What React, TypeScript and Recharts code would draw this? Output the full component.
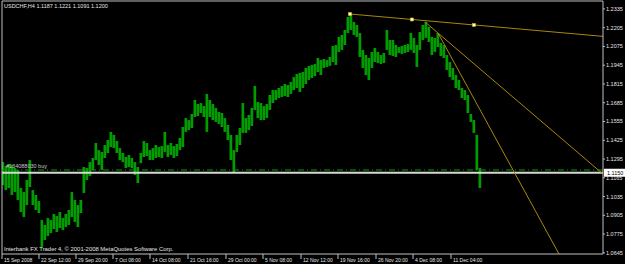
import React from 'react';
import { ComposedChart, Bar, XAxis, YAxis, ReferenceLine, ReferenceDot } from 'recharts';

const highs = [
  1.1274, 1.1247, 1.1260, 1.1254, 1.1233, 1.1219, 1.1094, 1.1066, 1.1150, 1.1288,
  1.1080, 1.1046, 1.1004, 1.0873, 1.0838, 1.0886, 1.0873, 1.0914, 1.0900, 1.0928,
  1.0886, 1.0914, 1.0942, 1.1066, 1.1011, 1.0976, 1.1011, 1.1240, 1.1233, 1.1274,
  1.1302, 1.1406, 1.1357, 1.1344, 1.1392, 1.1427, 1.1483, 1.1462, 1.1420, 1.1371,
  1.1337, 1.1309, 1.1323, 1.1302, 1.1274, 1.1240, 1.1337, 1.1420, 1.1406, 1.1357,
  1.1371, 1.1392, 1.1378, 1.1385, 1.1483, 1.1392, 1.1406, 1.1385, 1.1399, 1.1441,
  1.1517, 1.1579, 1.1565, 1.1607, 1.1704, 1.1676, 1.1683, 1.1662, 1.1746, 1.1704,
  1.1676, 1.1649, 1.1621, 1.1614, 1.1579, 1.1531, 1.1462, 1.1357, 1.1462, 1.1510,
  1.1683, 1.1579, 1.1600, 1.1649, 1.1801, 1.1690, 1.1683, 1.1662, 1.1676, 1.1739,
  1.1773, 1.1773, 1.1787, 1.1801, 1.1815, 1.1808, 1.1829, 1.1863, 1.1884, 1.1891,
  1.1898, 1.1926, 1.1940, 1.1947, 1.1953, 1.1995, 1.1981, 1.1988, 1.1981, 1.2002,
  1.2078, 1.2085, 1.2141, 1.2155, 1.2189, 1.2279, 1.2300, 1.2245, 1.2224, 1.2168,
  1.2051, 1.2016, 1.1995, 1.2037, 1.2064, 1.2037, 1.2016, 1.2030, 1.2189, 1.2120,
  1.2120, 1.2085, 1.2071, 1.2078, 1.2085, 1.2092, 1.2168, 1.2134, 1.2085, 1.2175,
  1.2224, 1.2245, 1.2210, 1.2141, 1.2134, 1.2168, 1.2099, 1.2085, 1.2016, 1.1967,
  1.1926, 1.1877, 1.1843, 1.1787, 1.1773, 1.1739, 1.1607, 1.1565, 1.1462, 1.1233,
];

const lows = [
  1.1115, 1.1080, 1.1094, 1.1046, 1.1066, 1.1011, 1.0928, 1.0893, 1.0976, 1.1101,
  1.0976, 1.0942, 1.0921, 1.0686, 1.0734, 1.0762, 1.0782, 1.0810, 1.0789, 1.0817,
  1.0803, 1.0824, 1.0838, 1.0893, 1.0859, 1.0824, 1.0921, 1.1060, 1.1150, 1.1177,
  1.1219, 1.1288, 1.1254, 1.1219, 1.1302, 1.1337, 1.1378, 1.1371, 1.1337, 1.1288,
  1.1274, 1.1233, 1.1240, 1.1233, 1.1184, 1.1129, 1.1267, 1.1309, 1.1316, 1.1288,
  1.1288, 1.1302, 1.1309, 1.1302, 1.1344, 1.1309, 1.1323, 1.1302, 1.1316, 1.1357,
  1.1378, 1.1483, 1.1496, 1.1510, 1.1586, 1.1593, 1.1614, 1.1586, 1.1483, 1.1586,
  1.1565, 1.1552, 1.1538, 1.1517, 1.1483, 1.1427, 1.1288, 1.1205, 1.1344, 1.1392,
  1.1476, 1.1476, 1.1496, 1.1524, 1.1635, 1.1579, 1.1565, 1.1565, 1.1579, 1.1635,
  1.1683, 1.1704, 1.1718, 1.1725, 1.1732, 1.1725, 1.1746, 1.1773, 1.1787, 1.1759,
  1.1787, 1.1815, 1.1843, 1.1856, 1.1870, 1.1898, 1.1877, 1.1926, 1.1933, 1.1940,
  1.1967, 1.1947, 1.2037, 1.2051, 1.2085, 1.2168, 1.2189, 1.2155, 1.2141, 1.2002,
  1.1926, 1.1877, 1.1843, 1.1926, 1.1967, 1.1960, 1.1953, 1.1960, 1.2051, 1.2016,
  1.2009, 1.2002, 1.2030, 1.2023, 1.2030, 1.2037, 1.2051, 1.2030, 1.1933, 1.2051,
  1.2120, 1.2134, 1.2106, 1.2016, 1.2037, 1.2071, 1.2009, 1.1995, 1.1912, 1.1863,
  1.1843, 1.1787, 1.1773, 1.1718, 1.1704, 1.1614, 1.1552, 1.1476, 1.1219, 1.1094,
];

// each entry covers three H4 bars
const data = highs.map((h, i) => ({ bar: i * 3 + 1, high: h, low: lows[i] }));

const timeTicks = [0, 37, 74, 111, 148, 186, 224, 261, 299, 336, 374, 411, 449];
const timeLabels = [
  '15 Sep 2008', '22 Sep 12:00', '29 Sep 20:00', '7 Oct 08:00', '14 Oct 08:00',
  '21 Oct 16:00', '29 Oct 00:00', '5 Nov 08:00', '12 Nov 12:00', '19 Nov 16:00',
  '26 Nov 20:00', '4 Dec 08:00', '11 Dec 04:00',
];
const priceTicks = [
  1.2335, 1.2205, 1.2075, 1.1945, 1.1815, 1.1685, 1.1555, 1.1425, 1.1295,
  1.1165, 1.1035, 1.0905, 1.0775, 1.0645,
];

const bidPrice = 1.12;
const bidLabel = '1.1150';
const orderPrice = 1.1219;
const orderLabel = '#134088030 buy';
const headerText = 'USDCHF,H4  1.1187 1.1221 1.1091 1.1200';
const footerText = 'Interbank FX Trader 4, \u00A9 2001-2008 MetaQuotes Software Corp.';

const trendTop = [{ x: 348, y: 1.23 }, { x: 601, y: 1.2145 }];
const trendAnchors = [{ x: 348, y: 1.23 }, { x: 410, y: 1.2262 }, { x: 472, y: 1.2224 }];
const fanA = [{ x: 423, y: 1.2245 }, { x: 601, y: 1.1191 }];
const fanB = [{ x: 436, y: 1.2168 }, { x: 557, y: 1.0637 }];

const FONT = '"Liberation Sans", Arial, sans-serif';
const FS = 5.5;
const FSX = 5.0;
const FSF = 5.9;
const AXIS = '#c0c0c0';
const GOLD = '#a8880c';

const XTick = (props: any) => {
  const { x, y, index } = props;
  return (
    <text x={x + 2} y={y + 3} fontSize={FSX} fontFamily={FONT} fill="#e6e6e6" textAnchor="start">
      {timeLabels[index]}
    </text>
  );
};

const Square = (props: any) => {
  const { cx, cy } = props;
  return <rect x={cx - 1.5} y={cy - 1.5} width={3} height={3} fill="#ffffa8" stroke="#e0c040" strokeWidth={0.5} />;
};

export default function App() {
  return (
    <div style={{ position: 'fixed', left: 0, top: 0, width: 625, height: 264, background: '#000', overflow: 'hidden' }}>
      <ComposedChart
        width={625}
        height={264}
        data={data}
        margin={{ top: 1, right: 0, left: 2, bottom: 0 }}
        barCategoryGap={0}
        barGap={0}
      >
        <XAxis
          dataKey="bar"
          type="number"
          domain={[0, 601]}
          allowDataOverflow
          ticks={timeTicks}
          interval={0}
          height={10}
          tickSize={5}
          tickMargin={0}
          axisLine={{ stroke: AXIS }}
          tickLine={{ stroke: AXIS }}
          tick={<XTick />}
        />
        <YAxis
          orientation="right"
          type="number"
          domain={[1.0637, 1.239]}
          allowDataOverflow
          ticks={priceTicks}
          interval={0}
          width={22}
          tickSize={2}
          tickMargin={1}
          axisLine={{ stroke: AXIS }}
          tickLine={{ stroke: AXIS }}
          tick={{ fill: '#e6e6e6', fontSize: FS, fontFamily: FONT }}
          tickFormatter={(v: number) => v.toFixed(4)}
        />
        <ReferenceLine x={0} stroke={AXIS} />
        <ReferenceLine y={1.239} stroke={AXIS} />
        <Bar
          dataKey={(d: any) => [d.low, d.high]}
          fill="#009c00"
          barSize={4}
          isAnimationActive={false}
        />
        <ReferenceLine
          y={orderPrice}
          stroke="#00a000"
          strokeDasharray="6 3 1 3"
          label={(p: any) => (
            <text x={p.viewBox.x + 4} y={p.viewBox.y - 2} fontSize={FS} fontFamily={FONT} fill="#c8c8c8">
              {orderLabel}
            </text>
          )}
        />
        <ReferenceLine
          y={bidPrice}
          stroke="#d8d8d8"
          strokeWidth={2}
          label={(p: any) => (
            <g>
              <rect x={p.viewBox.x + p.viewBox.width + 1} y={p.viewBox.y - 4} width={21} height={8} fill="#ffffff" />
              <text x={p.viewBox.x + p.viewBox.width + 4} y={p.viewBox.y + 2} fontSize={FS} fontFamily={FONT} fill="#000">
                {bidLabel}
              </text>
            </g>
          )}
        />
        <ReferenceLine segment={trendTop} stroke={GOLD} strokeWidth={1} />
        <ReferenceLine segment={fanA} stroke={GOLD} strokeWidth={1} />
        <ReferenceLine segment={fanB} stroke={GOLD} strokeWidth={1} />
        {trendAnchors.map((a, i) => (
          <ReferenceDot key={i} x={a.x} y={a.y} r={2} shape={<Square />} />
        ))}
      </ComposedChart>
      <svg width={625} height={264} style={{ position: 'absolute', left: 0, top: 0, pointerEvents: 'none' }}>
        <text x={4} y={8} fontSize={FS} fontFamily={FONT} fill="#e6e6e6">{headerText}</text>
        <text x={4} y={251} fontSize={FSF} fontFamily={FONT} fill="#e6e6e6">{footerText}</text>
      </svg>
    </div>
  );
}
